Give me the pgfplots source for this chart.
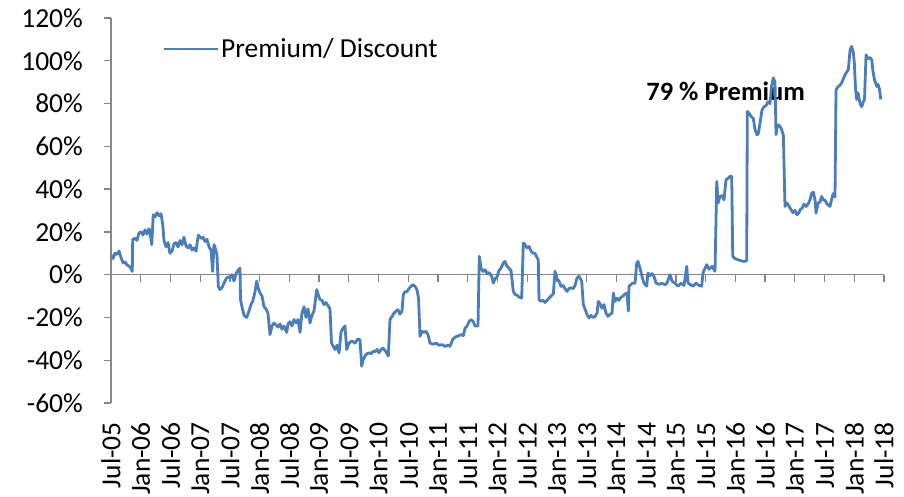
\documentclass[border=0pt]{standalone}
\usepackage{pgfplots}
\pgfplotsset{compat=1.18}
\usepackage{fontspec}
\setmainfont{Carlito}
\definecolor{series}{HTML}{4A7EBB}
\definecolor{axgray}{HTML}{868686}
\begin{document}
\begin{tikzpicture}
\pgfplotsset{base/.style={width=773pt, height=385pt, scale only axis,
  xmin=2005.5, xmax=2018.5, ymin=-60, ymax=120}}
% zero line with its tick marks
\begin{axis}[base, axis x line=middle, axis y line=none,
  xtick={2005.5,2006,...,2018.5}, xticklabels={}, ytick=\empty,
  x axis line style={-, draw=axgray, line width=1.3pt},
  xtick style={draw=axgray, line width=1.3pt},
  tick align=outside, major tick length=7pt]
\end{axis}
\begin{axis}[base, axis x line*=bottom, axis y line*=left,
  xtick={2005.5,2006,...,2018.5},
  xticklabels={Jul-05,Jan-06,Jul-06,Jan-07,Jul-07,Jan-08,Jul-08,Jan-09,Jul-09,Jan-10,Jul-10,Jan-11,Jul-11,Jan-12,Jul-12,Jan-13,Jul-13,Jan-14,Jul-14,Jan-15,Jul-15,Jan-16,Jul-16,Jan-17,Jul-17,Jan-18,Jul-18},
  xtick style={draw=none},
  x axis line style={draw=none},
  y axis line style={-, draw=axgray, line width=1.3pt},
  ytick={-60,-40,...,120},
  yticklabels={-60\%,-40\%,-20\%,0\%,20\%,40\%,60\%,80\%,100\%,120\%},
  ytick style={draw=axgray, line width=1.3pt},
  tick align=outside, major tick length=7pt,
  tick label style={font=\fontsize{27.5}{33}\selectfont},
  yticklabel style={inner sep=0pt, xshift=-21pt},
  xticklabel style={inner sep=0pt, yshift=-12pt, rotate=90, anchor=east},
  legend style={draw=none, fill=none, at={(axis description cs:0.0673,0.9195)},
    anchor=west, inner sep=0pt, font=\fontsize{27.5}{33}\selectfont},
  legend cell align=left,
  legend image code/.code={\draw[#1, line width=2pt] (0pt,0pt) -- (54pt,0pt);},
]
\coordinate (O) at (rel axis cs:0,0);
\node[anchor=base west, inner sep=0pt, font=\bfseries\fontsize{26.5}{32}\selectfont] at (axis cs:2014.5,81.5) {79 \% Premium};
\addplot[series, line width=2.8pt, line join=round] coordinates {
(2005.512,9.3) (2005.534,7.5) (2005.567,10) (2005.601,9.5) (2005.635,11) (2005.668,8) (2005.702,5.5) (2005.735,6) (2005.769,4.5) (2005.803,4) (2005.836,3) (2005.858,1.5)
(2005.865,16.4) (2005.904,17) (2005.937,16) (2005.971,19.5) (2006.005,20) (2006.038,18.5) (2006.072,21) (2006.105,19) (2006.139,21.5) (2006.156,20) (2006.185,14)
(2006.211,28) (2006.240,27) (2006.274,29) (2006.307,27.5) (2006.341,28.5) (2006.370,23.5) (2006.391,16) (2006.425,13) (2006.459,15) (2006.492,10) (2006.526,11)
(2006.560,14.5) (2006.593,15) (2006.627,13) (2006.660,16) (2006.694,14) (2006.728,17.5) (2006.761,13.5) (2006.795,12.5) (2006.829,14) (2006.862,11.5) (2006.896,12.5) (2006.930,11)
(2006.968,18.5) (2007.014,17) (2007.047,17.5) (2007.081,15.5) (2007.115,16.5) (2007.148,13) (2007.182,11.5) (2007.210,1.5) (2007.232,14) (2007.258,12) (2007.283,9)
(2007.305,-5.5) (2007.333,-7) (2007.367,-6) (2007.400,-4) (2007.434,-2) (2007.468,-1) (2007.501,-1.5) (2007.535,0) (2007.569,-3) (2007.602,0.5) (2007.636,2) (2007.670,3)
(2007.678,-11.7) (2007.703,-15) (2007.737,-19) (2007.782,-20) (2007.821,-17) (2007.855,-14) (2007.888,-12) (2007.922,-8) (2007.950,-3) (2007.972,-6) (2008.006,-8.5)
(2008.040,-10) (2008.073,-15) (2008.107,-16) (2008.140,-18) (2008.174,-28) (2008.208,-24) (2008.241,-22.6) (2008.275,-23.5) (2008.309,-24.5) (2008.342,-23) (2008.376,-25.5)
(2008.410,-24) (2008.455,-27) (2008.477,-23) (2008.510,-22) (2008.544,-24) (2008.578,-21) (2008.611,-22.5) (2008.645,-21) (2008.679,-27) (2008.712,-18) (2008.746,-15)
(2008.780,-20) (2008.813,-16) (2008.847,-22.6) (2008.880,-19) (2008.914,-17) (2008.960,-7) (2008.981,-9) (2009.015,-11.7) (2009.049,-12) (2009.082,-14) (2009.116,-13)
(2009.150,-14.5) (2009.183,-16) (2009.208,-32) (2009.239,-33.5) (2009.267,-35) (2009.301,-33) (2009.335,-36.6) (2009.351,-32) (2009.368,-27) (2009.402,-25) (2009.435,-24)
(2009.464,-35) (2009.503,-32) (2009.553,-31) (2009.604,-32) (2009.654,-30) (2009.688,-30.5) (2009.716,-42.8) (2009.738,-40) (2009.772,-38) (2009.805,-37) (2009.839,-36.5)
(2009.873,-37) (2009.911,-35.8) (2009.940,-36) (2009.974,-35) (2010.007,-36.5) (2010.041,-35) (2010.075,-34.3) (2010.108,-35.5) (2010.125,-36) (2010.164,-38)
(2010.192,-21) (2010.226,-19.5) (2010.260,-18) (2010.293,-17) (2010.327,-16.4) (2010.360,-18.5) (2010.394,-17) (2010.416,-9.3) (2010.444,-8) (2010.478,-7.9) (2010.512,-6.5)
(2010.545,-5.5) (2010.579,-4.7) (2010.613,-5.5) (2010.646,-7) (2010.672,-11) (2010.697,-28.8) (2010.730,-26.5) (2010.764,-27) (2010.798,-26.5) (2010.831,-28) (2010.865,-32)
(2010.915,-32.5) (2010.966,-32) (2011.016,-33) (2011.067,-32.7) (2011.117,-33.5) (2011.168,-33) (2011.201,-33.5) (2011.252,-30) (2011.302,-29) (2011.353,-28.5) (2011.386,-28)
(2011.425,-28.5) (2011.454,-25) (2011.487,-24) (2011.521,-22) (2011.554,-21) (2011.593,-22) (2011.622,-24) (2011.672,-24)
(2011.694,8.6) (2011.723,3) (2011.756,1.5) (2011.790,2.3) (2011.824,0.5) (2011.857,1) (2011.903,-0.8) (2011.930,-3.9) (2011.958,-2) (2011.992,-1) (2012.025,2) (2012.059,3)
(2012.098,5.5) (2012.126,6.2) (2012.160,4) (2012.194,3) (2012.227,2) (2012.266,-7.8) (2012.295,-9.3) (2012.328,-9.5) (2012.362,-10.5) (2012.407,-10.9)
(2012.434,14.8) (2012.463,14) (2012.496,12.5) (2012.530,13.2) (2012.564,11) (2012.597,10.1) (2012.631,10) (2012.664,8) (2012.686,7)
(2012.698,-11.7) (2012.732,-12.4) (2012.765,-12) (2012.799,-13) (2012.833,-12) (2012.866,-11) (2012.900,-10) (2012.939,-9) (2012.967,1.6) (2013.001,-2) (2013.035,-3)
(2013.068,-5.5) (2013.102,-5) (2013.135,-6.5) (2013.169,-7.8) (2013.203,-6.5) (2013.236,-6.2) (2013.275,-6.5) (2013.304,-5) (2013.337,-1.5) (2013.371,-0.8) (2013.416,-3)
(2013.443,-14) (2013.472,-16) (2013.505,-18.7) (2013.539,-20.2) (2013.573,-19) (2013.606,-20) (2013.640,-19.5) (2013.674,-18) (2013.695,-12.5) (2013.724,-13.6) (2013.758,-15.7)
(2013.791,-14) (2013.825,-18) (2013.859,-19.5) (2013.892,-18.5) (2013.926,-18) (2013.948,-8.6) (2013.976,-12.5) (2014.010,-11) (2014.044,-12) (2014.077,-10.5) (2014.111,-10)
(2014.144,-9) (2014.178,-8.6) (2014.200,-17) (2014.212,-5.4) (2014.245,-4.5) (2014.279,-3.9) (2014.313,-4) (2014.341,5.4) (2014.363,6.2) (2014.397,3) (2014.430,-0.8)
(2014.464,-4) (2014.509,-5.4) (2014.531,0.8) (2014.565,-0.5) (2014.599,0.5) (2014.632,-0.8) (2014.666,-3.9) (2014.716,-4.5) (2014.767,-4) (2014.817,-4.7) (2014.851,-3.9)
(2014.901,0) (2014.935,-3) (2014.985,-4) (2015.036,-5.4) (2015.086,-4) (2015.137,-5) (2015.182,3.9) (2015.204,-3.9) (2015.238,-4.5) (2015.288,-5.4) (2015.339,-4) (2015.389,-5)
(2015.434,-5.4) (2015.456,0.8) (2015.490,3) (2015.519,4.7) (2015.557,2.5) (2015.608,3.9) (2015.658,1.6)
(2015.687,43.6) (2015.709,33.5) (2015.742,36.6) (2015.776,37) (2015.809,35) (2015.843,44.4) (2015.877,45) (2015.910,46) (2015.939,46)
(2015.956,8.6) (2015.994,7.5) (2016.045,7) (2016.095,6.5) (2016.146,6.2) (2016.191,6.5)
(2016.201,76.3) (2016.230,75.5) (2016.264,74) (2016.302,73) (2016.331,67.8) (2016.364,65.4) (2016.386,66) (2016.415,70.9) (2016.449,77) (2016.482,78.5) (2016.516,79)
(2016.549,80.8) (2016.583,80) (2016.608,88) (2016.639,92) (2016.667,90) (2016.684,65.5) (2016.709,70) (2016.734,70) (2016.768,68.5) (2016.807,65.4)
(2016.835,31.9) (2016.869,33.5) (2016.903,32) (2016.936,30.4) (2016.970,29) (2017.004,30) (2017.037,28) (2017.071,29) (2017.088,30.4) (2017.121,31) (2017.155,33)
(2017.189,31.9) (2017.222,33) (2017.256,35) (2017.281,37.9) (2017.311,38.6) (2017.340,35) (2017.357,28.8) (2017.390,33.5) (2017.424,34) (2017.453,36.6) (2017.474,35)
(2017.508,34.8) (2017.542,33) (2017.592,31.9) (2017.617,35) (2017.643,37.9) (2017.676,36.3)
(2017.693,86.4) (2017.727,87.9) (2017.760,88.5) (2017.794,90) (2017.844,93.4) (2017.878,95) (2017.900,95.8) (2017.929,105) (2017.954,106.7) (2017.984,104) (2018.001,99)
(2018.021,87) (2018.041,81.9) (2018.063,85) (2018.097,80) (2018.125,78.5) (2018.152,80.8) (2018.172,82) (2018.198,102.8) (2018.231,101) (2018.265,101.5) (2018.294,100.5)
(2018.315,95) (2018.341,91) (2018.378,88) (2018.400,89) (2018.425,86.4) (2018.445,81.9)
};
\addlegendentry{Premium/ Discount}
\end{axis}
\pgfresetboundingbox
\path (O) ++(-111pt,-93pt) rectangle ++(904pt,496pt);
\end{tikzpicture}
\end{document}
